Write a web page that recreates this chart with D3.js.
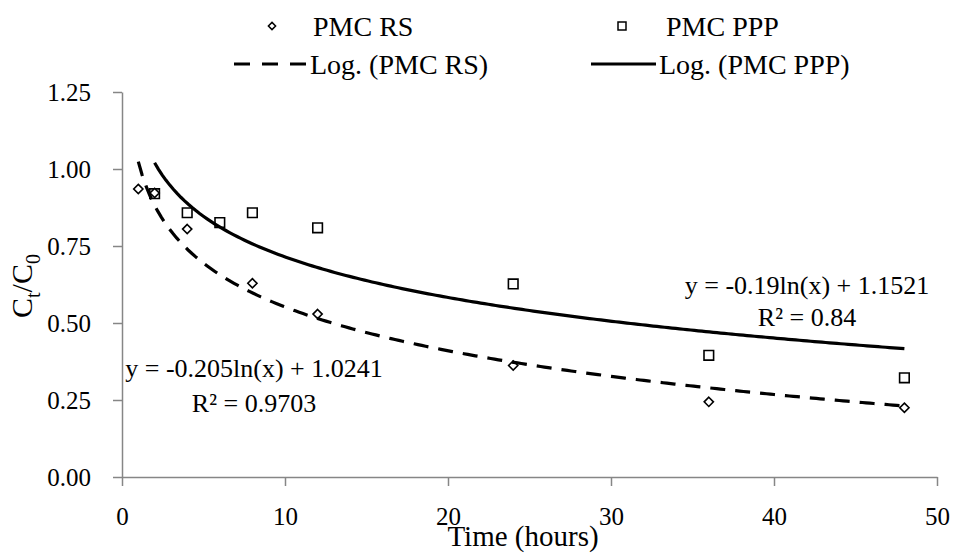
<!DOCTYPE html>
<html>
<head>
<meta charset="utf-8">
<script src="https://cdn.jsdelivr.net/npm/d3@7"></script>
<style>
  html, body { margin: 0; padding: 0; background: #ffffff; }
  svg { display: block; }
  svg text { font-family: "Liberation Serif", "Tinos", "Times New Roman", "Nimbus Roman", "FreeSerif", "Noto Serif", "DejaVu Serif", serif !important; fill: #000; }
</style>
</head>
<body>
<div id="chart"></div>
<script>
// ---- data ----
const timeRS = [1, 2, 4, 8, 12, 24, 36, 48];
const ctRS = [0.935, 0.922, 0.805, 0.629, 0.529, 0.362, 0.244, 0.225];
const timePPP = [2, 4, 6, 8, 12, 24, 36, 48];
const ctPPP = [0.920, 0.858, 0.826, 0.858, 0.809, 0.627, 0.395, 0.322];
const seriesNames = ["PMC RS", "PMC PPP"];
const trendNames = ["Log. (PMC RS)", "Log. (PMC PPP)"];
const trendSlope = [-0.205, -0.19];
const trendIntercept = [1.0241, 1.1521];
const trendFrom = [1, 2];
const trendTo = [48, 48];
const rSquared = ["0.9703", "0.84"];
const xTicks = [0, 10, 20, 30, 40, 50];
const yTicks = [0, 0.25, 0.5, 0.75, 1.0, 1.25];
const xTitle = "Time (hours)";

// ---- layout ----
const W = 955, H = 554;
const FONT = "'Liberation Serif', 'Tinos', 'Times New Roman', 'Nimbus Roman', 'FreeSerif', 'Noto Serif', 'DejaVu Serif', serif";
const svg = d3.select("#chart").append("svg").attr("width", W).attr("height", H)
  .attr("font-family", FONT);
const x = d3.scaleLinear().domain([0, 50]).range([122, 937]);
const y = d3.scaleLinear().domain([0, 1.25]).range([477, 92]);
const axisColor = "#868686";

// axes
const gx = svg.append("g").attr("transform", `translate(0,${y(0)})`)
  .call(d3.axisBottom(x).tickValues(xTicks).tickFormat(d3.format("d"))
    .tickSize(9).tickSizeOuter(0).tickPadding(21));
const gy = svg.append("g").attr("transform", `translate(${x(0)},0)`)
  .call(d3.axisLeft(y).tickValues(yTicks).tickFormat(d3.format(".2f"))
    .tickSize(9).tickSizeOuter(0).tickPadding(22));
[gx, gy].forEach(g => {
  g.attr("font-family", FONT).attr("font-size", 25);
  g.select(".domain").attr("stroke", axisColor).attr("stroke-width", 1.5);
  g.selectAll(".tick line").attr("stroke", axisColor).attr("stroke-width", 1.5);
  g.selectAll(".tick text").attr("font-size", 25).attr("font-family", FONT).attr("fill", "#000");
});

// markers
const diamondPath = r => `M0,${-r}L${r},0L0,${r}L${-r},0Z`;
const squarePath = r => `M${-r},${-r}H${r}V${r}H${-r}Z`;

const ptsPPP = timePPP.map((t, i) => [t, ctPPP[i]]);
const ptsRS = timeRS.map((t, i) => [t, ctRS[i]]);

svg.append("g").selectAll("path").data(ptsPPP).join("path")
  .attr("d", squarePath(4.8))
  .attr("transform", d => `translate(${x(d[0])},${y(d[1])})`)
  .attr("fill", "#fff").attr("stroke", "#000").attr("stroke-width", 1.6);
svg.append("g").selectAll("path").data(ptsRS).join("path")
  .attr("d", diamondPath(4.6))
  .attr("transform", d => `translate(${x(d[0])},${y(d[1])})`)
  .attr("fill", "#fff").attr("stroke", "#000").attr("stroke-width", 1.6);

// trend lines (logarithmic fit curves from coefficients)
const dashes = ["15,10", null];
trendSlope.forEach((a, k) => {
  const b = trendIntercept[k];
  const xs = d3.range(0, 201).map(i => trendFrom[k] + (trendTo[k] - trendFrom[k]) * i / 200);
  const line = d3.line().x(t => x(t)).y(t => y(a * Math.log(t) + b));
  svg.append("path").attr("d", line(xs))
    .attr("fill", "none").attr("stroke", "#000").attr("stroke-width", 3.2)
    .attr("stroke-dasharray", dashes[k]);
});

// equation labels
const eqText = (a, b) => `y = ${a}ln(x) + ${b}`;
const eqPos = [[254, 377, 412], [807, 294, 326]];
trendSlope.forEach((a, k) => {
  const g = svg.append("g").attr("text-anchor", "middle").attr("font-size", 26);
  g.append("text").attr("x", eqPos[k][0]).attr("y", eqPos[k][1]).text(eqText(a, trendIntercept[k]));
  g.append("text").attr("x", eqPos[k][0]).attr("y", eqPos[k][2]).text(`R² = ${rSquared[k]}`);
});

// axis titles
svg.append("text").attr("x", 523).attr("y", 546).attr("text-anchor", "middle")
  .attr("font-size", 29).text(xTitle);
const yt = svg.append("text").attr("transform", "translate(32,286) rotate(-90)")
  .attr("text-anchor", "middle").attr("font-size", 30);
yt.append("tspan").text("C");
yt.append("tspan").attr("font-size", 20).attr("dy", 8).text("t");
yt.append("tspan").attr("dy", -8).text("/C");
yt.append("tspan").attr("font-size", 20).attr("dy", 8).text("0");

// legend
const lg = svg.append("g").attr("font-size", 28);
const legMarkX = [272, 622];
const legTextX = [313, 666];
lg.append("path").attr("d", diamondPath(3.6)).attr("transform", `translate(${legMarkX[0]},26)`)
  .attr("fill", "#fff").attr("stroke", "#000").attr("stroke-width", 1.5);
lg.append("path").attr("d", squarePath(4)).attr("transform", `translate(${legMarkX[1]},26)`)
  .attr("fill", "#fff").attr("stroke", "#000").attr("stroke-width", 1.5);
seriesNames.forEach((n, k) => lg.append("text").attr("x", legTextX[k]).attr("y", 36).text(n));
const legLine = [[234, 306], [591, 656]];
const legLineTextX = [310, 659];
trendNames.forEach((n, k) => {
  lg.append("line").attr("x1", legLine[k][0]).attr("x2", legLine[k][1]).attr("y1", 64).attr("y2", 64)
    .attr("stroke", "#000").attr("stroke-width", 3.2).attr("stroke-dasharray", dashes[k] ? "16,12" : null);
  lg.append("text").attr("x", legLineTextX[k]).attr("y", 74).text(n);
});
</script>
</body>
</html>
